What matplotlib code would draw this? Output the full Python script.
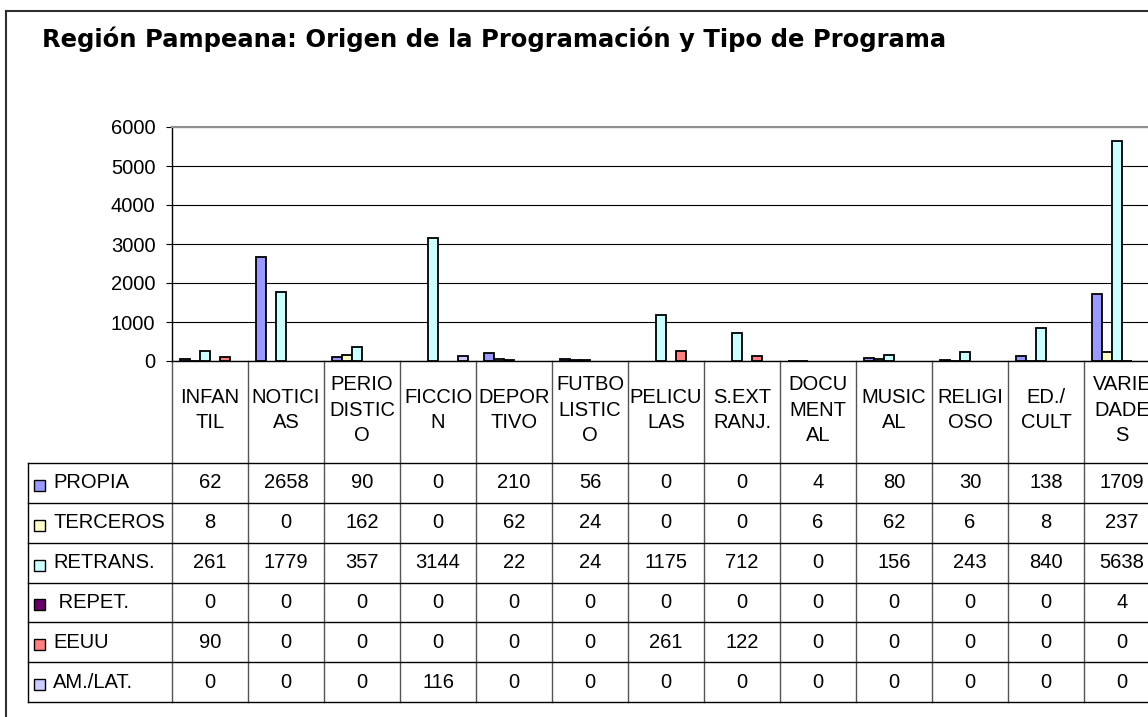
import numpy as np
import matplotlib.pyplot as plt
from matplotlib.patches import Rectangle
from matplotlib.lines import Line2D

plt.rcParams['font.family'] = ['Liberation Sans', 'DejaVu Sans']

categorias = ["INFAN\nTIL", "NOTICI\nAS", "PERIO\nDISTIC\nO", "FICCIO\nN", "DEPOR\nTIVO",
              "FUTBO\nLISTIC\nO", "PELICU\nLAS", "S.EXT\nRANJ.", "DOCU\nMENT\nAL",
              "MUSIC\nAL", "RELIGI\nOSO", "ED./\nCULT", "VARIE\nDADE\nS"]
series = ["PROPIA", "TERCEROS", "RETRANS.", " REPET.", "EEUU", "AM./LAT."]
propia = [62, 2658, 90, 0, 210, 56, 0, 0, 4, 80, 30, 138, 1709]
terceros = [8, 0, 162, 0, 62, 24, 0, 0, 6, 62, 6, 8, 237]
retrans = [261, 1779, 357, 3144, 22, 24, 1175, 712, 0, 156, 243, 840, 5638]
repet = [0, 0, 0, 0, 0, 0, 0, 0, 0, 0, 0, 0, 4]
eeuu = [90, 0, 0, 0, 0, 0, 261, 122, 0, 0, 0, 0, 0]
amlat = [0, 0, 0, 116, 0, 0, 0, 0, 0, 0, 0, 0, 0]
valores = [propia, terceros, retrans, repet, eeuu, amlat]
colores = ["#9999FF", "#FFFFCC", "#CCFFFF", "#660066", "#FF8080", "#CCCCFF"]

W, H = 1148, 717
fig = plt.figure(figsize=(W / 100, H / 100), dpi=100)

# capa de fondo en pixeles (marco, tabla)
bg = fig.add_axes([0, 0, 1, 1])
bg.set_xlim(0, W)
bg.set_ylim(H, 0)
bg.axis('off')

# marco exterior
bg.add_line(Line2D([6, 6], [11, H + 5], color='#303030', lw=1.5))
bg.add_line(Line2D([6, W + 5], [11, 11], color='#303030', lw=1.5))

bg.text(42, 47, "Región Pampeana: Origen de la Programación y Tipo de Programa",
        fontsize=17.5, fontweight='bold', va='baseline', ha='left', family='DejaVu Sans')

# grafico de barras
x0, x1, ytop, ybot = 172, 1160, 127, 361
ax = fig.add_axes([x0 / W, 1 - ybot / H, (x1 - x0) / W, (ybot - ytop) / H])
n = len(categorias)
x = np.arange(n)
w = 10 / 76
for i, (vals, c) in enumerate(zip(valores, colores)):
    v = np.array(vals)
    m = v > 0  # los ceros no se dibujan
    ax.bar(x[m] + (i - 2.5) * w, v[m], w, color=c, edgecolor='black', linewidth=1.3, zorder=3)
ax.set_xlim(-0.5, n - 0.5)
ax.set_ylim(0, 6000)
ax.set_yticks(range(0, 6001, 1000))
ax.set_xticks([])
ax.grid(axis='y', color='black', lw=0.8, zorder=0)
ax.tick_params(axis='y', length=4, width=0.8, pad=8, labelsize=14.5)
ax.spines['right'].set_visible(False)
ax.spines['top'].set_color('#909090')
ax.spines['top'].set_linewidth(1.5)
ax.spines['left'].set_linewidth(1.0)
ax.spines['bottom'].set_linewidth(1.0)
ax.patch.set_alpha(0)

# tabla de datos
col_w = 76
filas = np.linspace(463, 702, len(series) + 1)
fs = 14.5
for j in range(n + 1):
    xc = x0 + j * col_w
    bg.add_line(Line2D([xc, xc], [ybot, filas[-1]], color='#555555', lw=1.0))
for k, y in enumerate(filas):
    bg.add_line(Line2D([28, x1 + 20], [y, y], color='black', lw=1.0))
bg.add_line(Line2D([28, 28], [filas[0], filas[-1]], color='black', lw=1.0))

for j, cat in enumerate(categorias):
    bg.text(x0 + (j + 0.5) * col_w, 410, cat, ha='center', va='center',
            fontsize=fs, linespacing=1.45)

for i, (nombre, vals, c) in enumerate(zip(series, valores, colores)):
    yc = (filas[i] + filas[i + 1]) / 2
    bg.add_patch(Rectangle((34, yc - 3), 11, 11, facecolor=c, edgecolor='black', lw=1.0))
    bg.text(53, yc, nombre, ha='left', va='center', fontsize=fs)
    for j, v in enumerate(vals):
        bg.text(x0 + (j + 0.5) * col_w, yc, str(v), ha='center', va='center', fontsize=fs)

fig.savefig('out.png', dpi=100)
plt.close('all')
